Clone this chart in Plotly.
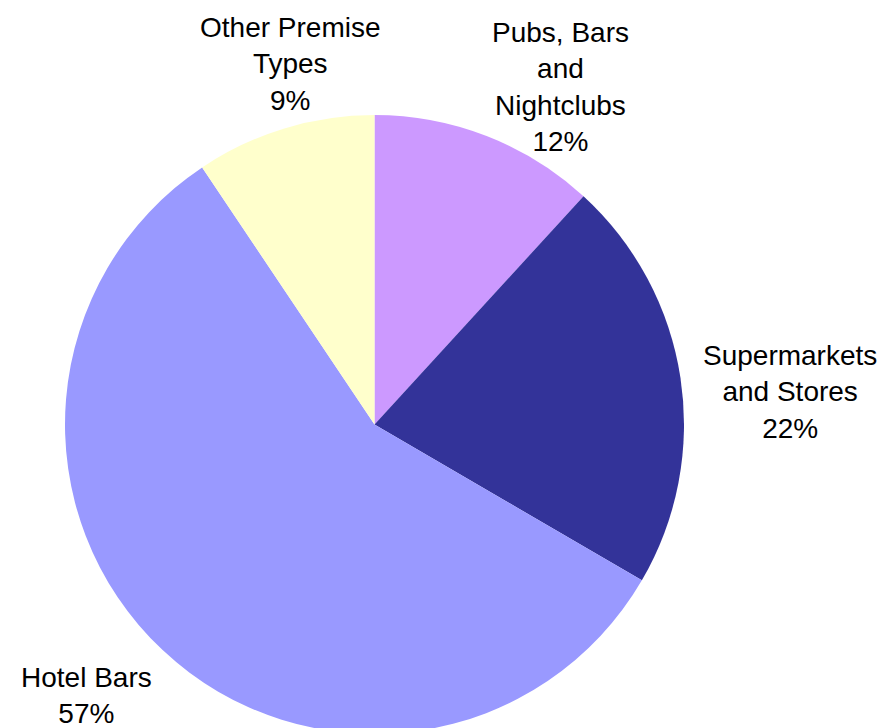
import plotly.graph_objects as go

labels = ["Pubs, Bars<br>and<br>Nightclubs", "Supermarkets<br>and Stores", "Hotel Bars", "Other Premise<br>Types"]
values = [11.8, 21.6, 57.2, 9.4]
colors = ["#CC99FF", "#333399", "#9999FF", "#FFFFCC"]
# label block centres (pixels from top-left), layout only
label_pos = [(560, 87), (790, 392), (86, 695), (290, 64)]

W, H = 895, 760
fig = go.Figure(go.Pie(
    labels=labels, values=values, sort=False, direction="clockwise", rotation=0,
    marker=dict(colors=colors, line=dict(width=0)),
    textinfo="none",
    domain=dict(x=[65 / W, 684 / W], y=[1 - 734 / H, 1 - 115 / H]),
    showlegend=False, hoverinfo="label+percent",
))
total = sum(values)
for lab, v, (px, py) in zip(labels, values, label_pos):
    fig.add_annotation(
        x=px / W, y=1 - py / H, xref="paper", yref="paper",
        xanchor="center", yanchor="middle", align="center", showarrow=False,
        text=f"{lab}<br>{round(100 * v / total)}%",
        font=dict(family="Liberation Sans, Arial", size=28, color="#000000"),
    )
fig.update_layout(width=W, height=H, margin=dict(l=0, r=0, t=0, b=0),
                  paper_bgcolor="white", plot_bgcolor="white")
fig.write_html("out.html", config={"displayModeBar": False},
               post_script="document.body.style.overflow='hidden';document.documentElement.style.overflow='hidden';document.body.style.margin='0';")
